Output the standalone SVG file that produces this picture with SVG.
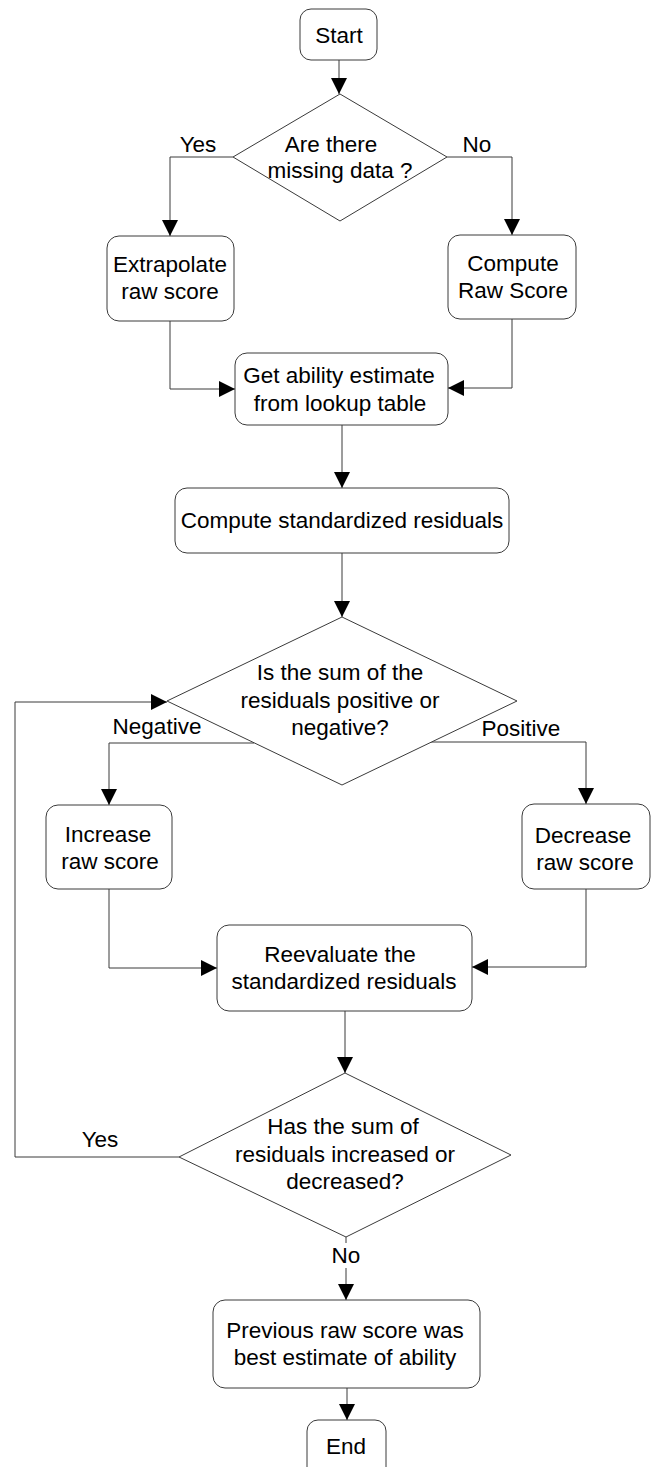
<svg xmlns="http://www.w3.org/2000/svg" width="654" height="1467" viewBox="0 0 654 1467">
<style>
.box{fill:#fff;stroke:#3a3a3a;stroke-width:1}
.dia{fill:#fff;stroke:#3a3a3a;stroke-width:1}
.c{fill:none;stroke:#3a3a3a;stroke-width:1}
text{font-family:"Liberation Sans",Arial,sans-serif;font-size:22.5px;fill:#000;text-anchor:middle}
</style>
<defs>
<marker id="ah" markerUnits="userSpaceOnUse" markerWidth="16" markerHeight="16" refX="16" refY="8" orient="auto">
<path d="M0,0 L16,8 L0,16 z" fill="#000"/>
</marker>
</defs>
<rect width="654" height="1467" fill="#fff"/>
<g id="connectors">
<path class="c" d="M339,60 V94" marker-end="url(#ah)"/>
<path class="c" d="M233,157 H170 V236" marker-end="url(#ah)"/>
<path class="c" d="M447,157 H512 V235" marker-end="url(#ah)"/>
<path class="c" d="M170,321 V389 H235" marker-end="url(#ah)"/>
<path class="c" d="M512,319 V388 H448" marker-end="url(#ah)"/>
<path class="c" d="M342,425 V488" marker-end="url(#ah)"/>
<path class="c" d="M342,553 V617" marker-end="url(#ah)"/>
<path class="c" d="M254,743 H109 V805" marker-end="url(#ah)"/>
<path class="c" d="M430,742 H586 V804" marker-end="url(#ah)"/>
<path class="c" d="M109,889 V968 H217" marker-end="url(#ah)"/>
<path class="c" d="M586,889 V967 H472" marker-end="url(#ah)"/>
<path class="c" d="M345,1011 V1073" marker-end="url(#ah)"/>
<path class="c" d="M179,1157 H15 V702 H167" marker-end="url(#ah)"/>
<path class="c" d="M346,1237 V1243"/>
<path class="c" d="M346,1268 V1300" marker-end="url(#ah)"/>
<path class="c" d="M347,1388 V1420" marker-end="url(#ah)"/>
<text x="198" y="152">Yes</text>
<text x="477" y="152">No</text>
<text x="157" y="734">Negative</text>
<text x="521" y="736">Positive</text>
<text x="100" y="1147">Yes</text>
<text x="346" y="1263">No</text>
</g>
<g id="start">
<rect class="box" x="300" y="9" width="77" height="51" rx="11"/>
<text x="339" y="43">Start</text>
</g>
<g id="missing">
<polygon class="dia" points="340,94 447,157 340,221 233,157"/>
<text x="331" y="152">Are there</text>
<text x="340" y="178">missing data ?</text>
</g>
<g id="extrapolate">
<rect class="box" x="107" y="236" width="127" height="85" rx="12"/>
<text x="170" y="272">Extrapolate</text>
<text x="170" y="299">raw score</text>
</g>
<g id="computeraw">
<rect class="box" x="448" y="235" width="128" height="84" rx="12"/>
<text x="513" y="271">Compute</text>
<text x="513" y="298">Raw Score</text>
</g>
<g id="ability">
<rect class="box" x="235" y="353" width="213" height="72" rx="12"/>
<text x="339" y="383">Get ability estimate</text>
<text x="340" y="411">from lookup table</text>
</g>
<g id="computestd">
<rect class="box" x="175" y="488" width="334" height="65" rx="12"/>
<text x="342" y="528">Compute standardized residuals</text>
</g>
<g id="sumsign">
<polygon class="dia" points="342,617 517,701 342,785 167,701"/>
<text x="340" y="680">Is the sum of the</text>
<text x="340" y="708">residuals positive or</text>
<text x="340" y="735">negative?</text>
</g>
<g id="increase">
<rect class="box" x="46" y="805" width="126" height="84" rx="12"/>
<text x="108" y="842">Increase</text>
<text x="110" y="869">raw score</text>
</g>
<g id="decrease">
<rect class="box" x="522" y="804" width="128" height="85" rx="12"/>
<text x="583" y="843">Decrease</text>
<text x="585" y="870">raw score</text>
</g>
<g id="reevaluate">
<rect class="box" x="217" y="925" width="255" height="86" rx="12"/>
<text x="340" y="962">Reevaluate the</text>
<text x="344" y="989">standardized residuals</text>
</g>
<g id="changed">
<polygon class="dia" points="345,1073 511,1155 346,1237 179,1157"/>
<text x="343" y="1134">Has the sum of</text>
<text x="345" y="1162">residuals increased or</text>
<text x="345" y="1189">decreased?</text>
</g>
<g id="previous">
<rect class="box" x="213" y="1300" width="267" height="88" rx="12"/>
<text x="345" y="1338">Previous raw score was</text>
<text x="345" y="1365">best estimate of ability</text>
</g>
<g id="end">
<rect class="box" x="307" y="1420" width="79" height="60" rx="11"/>
<text x="346" y="1454">End</text>
</g>
</svg>
